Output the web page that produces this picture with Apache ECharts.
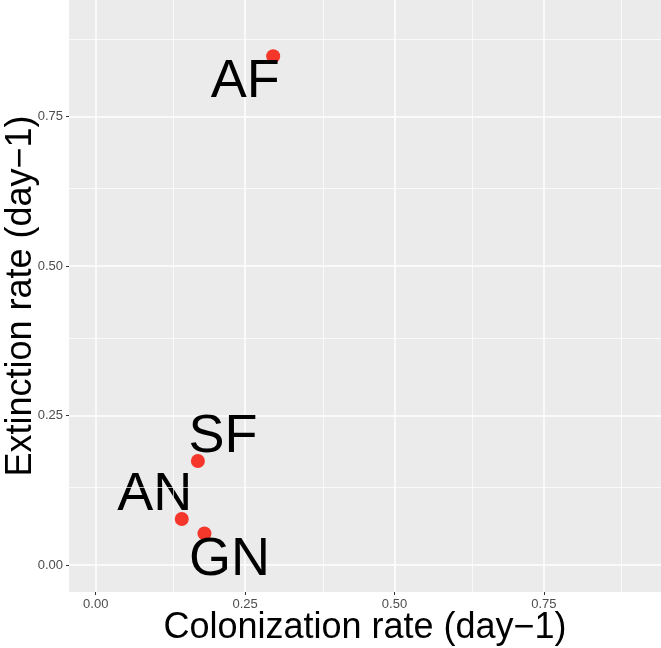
<!DOCTYPE html>
<html>
<head>
<meta charset="utf-8">
<script src="https://cdn.jsdelivr.net/npm/echarts@6/dist/echarts.min.js"></script>
<style>
  html, body { margin: 0; padding: 0; background: #fff; }
  #chart { width: 661px; height: 648px; }
</style>
</head>
<body>
<div id="chart"></div>
<script>
// sites and their rates
const sites = ['AF', 'SF', 'AN', 'GN'];
const colonization = [0.297, 0.171, 0.144, 0.182];
const extinction = [0.851, 0.174, 0.077, 0.053];

const majorTicks = [0, 0.25, 0.5, 0.75];
const minorTicks = [0.125, 0.375, 0.625, 0.875];
const tickLabels = ['0.00', '0.25', '0.50', '0.75'];

// where each site label sits relative to its point (px)
const labelOffsets = { AF: [-28, 26], SF: [25, -24], AN: [-27, -24], GN: [25, 27] };

const FONT = '"Liberation Sans", Arial, sans-serif';

const chart = echarts.init(document.getElementById('chart'), null, { renderer: 'canvas' });

const axisCommon = {
    type: 'value',
    axisLine: { show: false, onZero: false },
    axisTick: { show: true, length: 3, lineStyle: { color: '#333', width: 1 }, customValues: majorTicks },
    axisLabel: {
        customValues: majorTicks,
        formatter: v => tickLabels[majorTicks.indexOf(v)] ?? '',
        color: '#4D4D4D',
        fontFamily: FONT,
        fontSize: 13,
    },
    splitLine: { show: true, lineStyle: { color: '#fff', width: 1.5 } },
    nameLocation: 'middle',
    nameMoveOverlap: false,
    nameTextStyle: { fontFamily: FONT, fontSize: 36, color: '#000' },
};

chart.setOption({
    animation: false,
    grid: {
        left: 69, right: 0, top: 0, bottom: 56,
        outerBoundsMode: 'none',
        containLabel: false,
        show: true, backgroundColor: '#EBEBEB', borderWidth: 0,
    },
    xAxis: Object.assign({}, axisCommon, {
        min: -0.0447, max: 0.946,
        name: 'Colonization rate (day\u22121)',
        nameGap: 18,
        axisLabel: Object.assign({}, axisCommon.axisLabel, { margin: 6 }),
    }),
    yAxis: Object.assign({}, axisCommon, {
        min: -0.045, max: 0.945,
        name: 'Extinction rate (day\u22121)',
        nameGap: 30,
        axisLabel: Object.assign({}, axisCommon.axisLabel, { margin: 6 }),
    }),
    series: [
        {
            // minor grid lines
            type: 'line',
            data: [],
            silent: true,
            markLine: {
                silent: true,
                symbol: 'none',
                label: { show: false },
                lineStyle: { color: '#fff', width: 0.7, type: 'solid' },
                data: minorTicks.map(v => ({ xAxis: v })).concat(minorTicks.map(v => ({ yAxis: v }))),
            },
        },
        {
            type: 'scatter',
            symbolSize: 14,
            itemStyle: { color: '#F5372B', opacity: 1 },
            label: {
                show: true,
                position: 'inside',
                formatter: p => p.name,
                fontFamily: FONT,
                fontSize: 54,
                color: '#000',
            },
            data: sites.map((s, i) => ({
                name: s,
                value: [colonization[i], extinction[i]],
                label: { offset: labelOffsets[s] },
            })),
        },
    ],
});

window.addEventListener('resize', () => chart.resize());
</script>
</body>
</html>
